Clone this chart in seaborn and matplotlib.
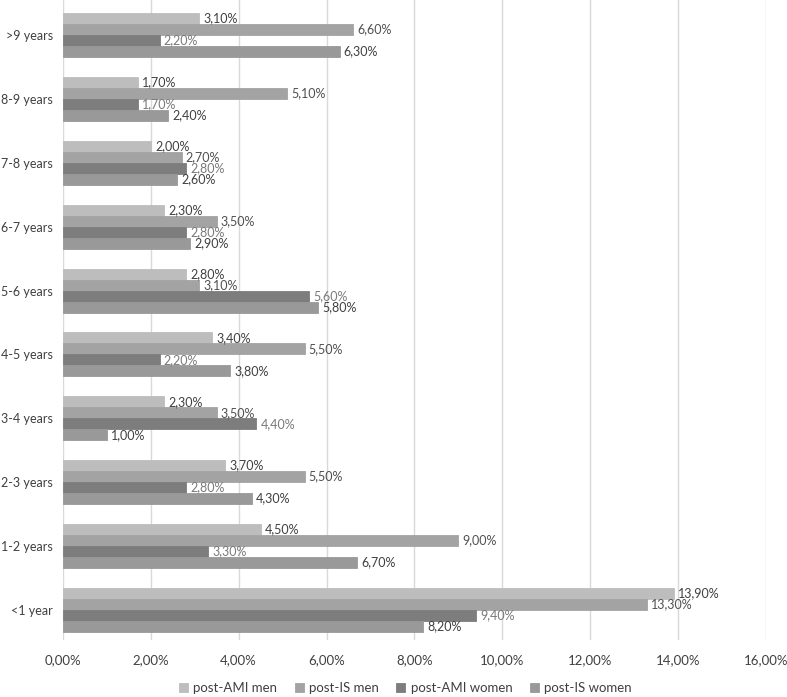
import pandas as pd
import seaborn as sns
import matplotlib.pyplot as plt

# data, top group first
categories = ['>9 years', '8-9 years', '7-8 years', '6-7 years', '5-6 years',
              '4-5 years', '3-4 years', '2-3 years', '1-2 years', '<1 year']
series = ['post-AMI men', 'post-IS men', 'post-AMI women', 'post-IS women']
ami_men = [3.1, 1.7, 2.0, 2.3, 2.8, 3.4, 2.3, 3.7, 4.5, 13.9]
is_men = [6.6, 5.1, 2.7, 3.5, 3.1, 5.5, 3.5, 5.5, 9.0, 13.3]
ami_women = [2.2, 1.7, 2.8, 2.8, 5.6, 2.2, 4.4, 2.8, 3.3, 9.4]
is_women = [6.3, 2.4, 2.6, 2.9, 5.8, 3.8, 1.0, 4.3, 6.7, 8.2]
xticks = [0, 2, 4, 6, 8, 10, 12, 14, 16]

rows = []
for name, vals in zip(series, [ami_men, is_men, ami_women, is_women]):
    for cat, v in zip(categories, vals):
        rows.append({'period': cat, 'group': name, 'value': v})
df = pd.DataFrame(rows)

plt.rcParams['font.family'] = ['Lato', 'DejaVu Sans']

colors = ['#bdbdbd', '#a3a3a3', '#7d7d7d', '#999999']
label_colors = ['#404040', '#505050', '#7a7a7a', '#404040']

fig = plt.figure(figsize=(7.87, 6.97), dpi=100)
ax = fig.add_axes([0.080, 0.082, 0.893, 0.918])
sns.barplot(data=df, y='period', x='value', hue='group', order=categories,
            hue_order=series, palette=colors, orient='h', width=0.69,
            gap=0, saturation=1, errorbar=None, ax=ax, zorder=3)
# thin outline in the face colour so the bars of a group touch
for p in ax.patches:
    p.set_edgecolor(p.get_facecolor())
    p.set_linewidth(0.6)

for cont, lc in zip(ax.containers, label_colors):
    labels = [f"{b.get_width():.2f}".replace('.', ',') + '%' for b in cont]
    ax.bar_label(cont, labels=labels, padding=3, fontsize=9, color=lc)

ax.set_xlim(0, 16)
ax.set_ylim(len(categories) - 1 + 0.47, -0.55)
ax.set_xticks(xticks)
ax.set_xticklabels([f"{t:.2f}".replace('.', ',') + '%' for t in xticks])
ax.grid(axis='x', color='#d9d9d9', linewidth=1, zorder=0)
ax.set_xlabel('')
ax.set_ylabel('')
for s in ax.spines.values():
    s.set_visible(False)
ax.tick_params(axis='x', length=0, labelsize=9.5, labelcolor='#404040', pad=10)
ax.tick_params(axis='y', length=0, labelsize=9, labelcolor='#404040', pad=7)

fig.legend(*ax.get_legend_handles_labels(), loc='center', bbox_to_anchor=(0.515, 0.013),
           ncol=4, frameon=False, fontsize=9.5, handlelength=0.7, handleheight=0.7,
           handletextpad=0.4, columnspacing=1.3, labelcolor='#404040')
ax.get_legend().remove()

plt.savefig('out.png', dpi=100)
